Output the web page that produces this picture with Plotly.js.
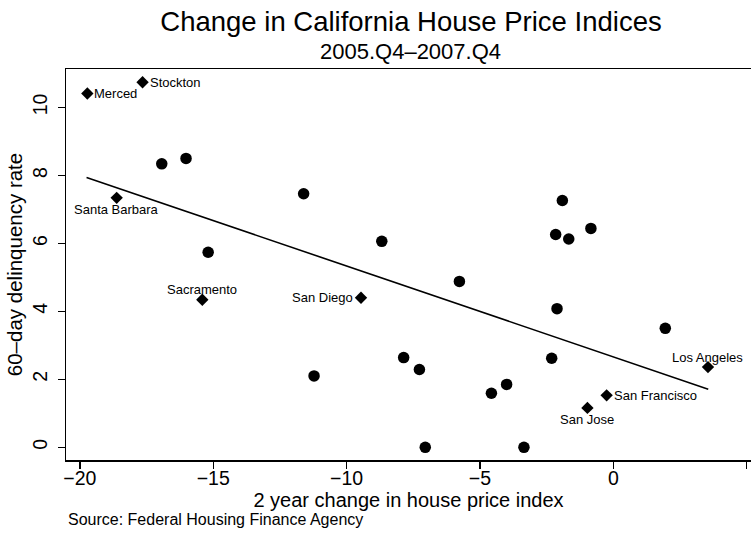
<!DOCTYPE html>
<html>
<head>
<meta charset="utf-8">
<script src="https://cdn.plot.ly/plotly-3.0.1.min.js"></script>
<style>html,body{margin:0;padding:0;background:#fff;}#chart{width:751px;height:539px;}</style>
</head>
<body>
<div id="chart"></div>
<script>
// Other metro areas (circles)
const otherX = [-16.93, -16.02, -15.19, -11.61, -8.68, -5.77, -7.86, -7.27, -11.22, -4.57, -7.05, -1.91, -2.16, -1.67, -0.84, -2.11, 1.95, -2.31, -4.00, -3.35];
const otherY = [8.34, 8.50, 5.74, 7.46, 6.06, 4.88, 2.64, 2.29, 2.10, 1.59, 0.00, 7.26, 6.26, 6.13, 6.44, 4.08, 3.50, 2.62, 1.85, 0.00];

// Labeled metro areas (diamonds)
const cityNames = ["Merced", "Stockton", "Santa Barbara", "Sacramento", "San Diego", "Los Angeles", "San Francisco", "San Jose"];
const cityX = [-19.72, -17.65, -18.62, -15.41, -9.46, 3.55, -0.25, -0.97];
const cityY = [10.41, 10.74, 7.34, 4.34, 4.40, 2.36, 1.53, 1.16];
const cityLabelSide = ["right", "right", "below", "above", "left", "above", "right", "below"];

// Fitted line endpoints
const fitX = [-19.75, 3.56];
const fitY = [7.94, 1.71];

const xTicks = [-20, -15, -10, -5, 0, 5];
const yTicks = [0, 2, 4, 6, 8, 10];

const FONT = "Liberation Sans, Arial, Helvetica, sans-serif";
const sideStyle = {
  right: {xanchor: "left", yanchor: "middle", xshift: 5, yshift: 0},
  left: {xanchor: "right", yanchor: "middle", xshift: -6, yshift: 0},
  above: {xanchor: "center", yanchor: "middle", xshift: 0, yshift: 10},
  below: {xanchor: "center", yanchor: "middle", xshift: 0, yshift: -12}
};

const traces = [
  {
    x: otherX, y: otherY, type: "scatter", mode: "markers",
    marker: {symbol: "circle", size: 11.5, color: "#000"},
    hoverinfo: "skip", showlegend: false
  },
  {
    x: cityX, y: cityY, type: "scatter", mode: "markers",
    marker: {symbol: "diamond", size: 9.5, color: "#000"},
    hoverinfo: "skip", showlegend: false
  },
  {
    x: fitX, y: fitY, type: "scatter", mode: "lines",
    line: {color: "#000", width: 1.6},
    hoverinfo: "skip", showlegend: false
  }
];

const cityAnnotations = cityNames.map((name, i) => Object.assign({
  text: name, x: cityX[i], y: cityY[i], xref: "x", yref: "y", showarrow: false,
  font: {family: FONT, size: 13, color: "#000"}
}, sideStyle[cityLabelSide[i]]));

const layout = {
  width: 751, height: 539,
  margin: {l: 66, r: 0, t: 69, b: 79},
  paper_bgcolor: "#fff", plot_bgcolor: "#fff",
  font: {family: FONT, color: "#000"},
  title: {
    text: "Change in California House Price Indices",
    font: {family: FONT, size: 27.5, color: "#000"},
    xref: "paper", x: 0.5 + 2.5 / 685, xanchor: "center",
    yref: "container", y: 1 - 21.5 / 539, yanchor: "middle"
  },
  xaxis: {
    range: [-20.52, 5.163],
    tickvals: xTicks,
    ticks: "outside", ticklen: 7, tickwidth: 1.3, tickcolor: "#000",
    tickfont: {family: FONT, size: 19.5, color: "#000"},
    ticklabelstandoff: -7,
    showline: true, linecolor: "#000", linewidth: 1.5, mirror: true,
    showgrid: false, zeroline: false,
    title: {text: "2 year change in house price index", font: {family: FONT, size: 20, color: "#000"}, standoff: 0}
  },
  yaxis: {
    range: [-0.373, 11.13],
    tickvals: yTicks,
    tickangle: -90,
    ticks: "outside", ticklen: 7, tickwidth: 1.3, tickcolor: "#000",
    tickfont: {family: FONT, size: 19.5, color: "#000"},
    ticklabelstandoff: 3,
    showline: true, linecolor: "#000", linewidth: 1.5,
    showgrid: false, zeroline: false,
    title: {text: "60–day delinquency rate", font: {family: FONT, size: 20.5, color: "#000"}, standoff: 0}
  },
  annotations: [
    {
      text: "2005.Q4–2007.Q4", showarrow: false,
      xref: "paper", yref: "paper", x: 0.5 + 2 / 685, y: 1, xanchor: "center", yanchor: "middle", yshift: 18,
      font: {family: FONT, size: 22, color: "#000"}
    },
    {
      text: "Source: Federal Housing Finance Agency", showarrow: false,
      xref: "paper", yref: "paper", x: 0, y: 0, xanchor: "left", yanchor: "middle", xshift: 0, yshift: -59,
      font: {family: FONT, size: 16, color: "#000"}
    }
  ].concat(cityAnnotations)
};

Plotly.newPlot("chart", traces, layout, {displayModeBar: false, staticPlot: true});
</script>
</body>
</html>
